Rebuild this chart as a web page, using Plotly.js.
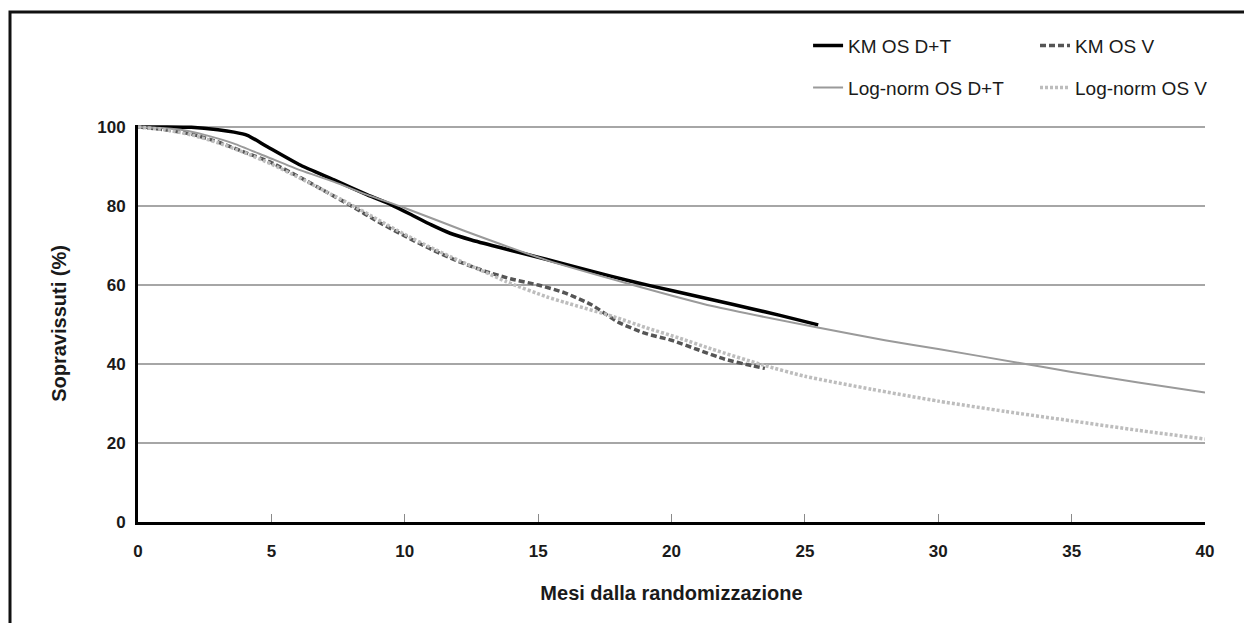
<!DOCTYPE html>
<html>
<head>
<meta charset="utf-8">
<script src="https://cdn.plot.ly/plotly-3.0.1.min.js"></script>
<style>
  html, body { margin: 0; padding: 0; background: #fff; }
  #chart { width: 1244px; height: 623px; }
</style>
</head>
<body>
<div id="chart"></div>
<script>
// Kaplan-Meier OS D+T (months, % surviving)
const kmDT_x = [0, 1, 2, 3, 3.6, 4.1, 4.85, 6.1, 7.35, 8.6, 9.5, 10.3, 11, 11.7, 12.5, 13.5, 15.3, 17, 18.45, 20, 21.57, 23, 24.07, 25.5];
const kmDT_y = [100, 100, 99.9, 99.3, 98.7, 97.9, 95, 90.3, 86.6, 82.8, 80.3, 77.6, 75.2, 73.1, 71.4, 69.6, 66.5, 63.5, 61.0, 58.6, 56.2, 54.0, 52.3, 49.9];

// Kaplan-Meier OS V
const kmV_x = [0, 1, 2, 3, 4, 5, 6, 7, 8, 9, 10, 11, 12, 13, 14, 15, 16, 17, 18, 19, 20, 21, 22, 23, 23.5];
const kmV_y = [100, 99.3, 98.2, 96.2, 93.6, 91.0, 87.5, 83.8, 80.0, 76.0, 72.4, 69.0, 66.0, 63.5, 61.5, 60.0, 58.0, 55.0, 50.6, 47.8, 46.0, 43.6, 41.2, 39.6, 38.9];

// Log-normal OS D+T
const lnDT_x = [0, 1, 1.73, 2.5, 3.6, 4.85, 6.1, 7.35, 8.6, 10, 12.2, 15.32, 18.45, 21.57, 25.58, 28, 30, 33, 35, 37.5, 40];
const lnDT_y = [100, 99.7, 99.2, 98, 95.8, 92.4, 89, 86.1, 82.8, 79.5, 73.8, 66.3, 60.2, 54.6, 49.1, 46.0, 43.8, 40.3, 38.0, 35.3, 32.8];

// Log-normal OS V
const lnV_x = [0, 1, 2, 3, 4, 5, 6, 7, 8, 9, 10, 11, 12, 13, 13.82, 15.32, 16, 17.82, 19, 20.32, 21.5, 23.45, 25, 27.5, 30, 32.5, 35, 37.5, 40];
const lnV_y = [100, 99.3, 98, 96, 93.5, 90.6, 87.3, 83.8, 80.3, 76.5, 72.8, 69.4, 66.3, 63.3, 60.8, 57.0, 55.6, 52.0, 49.3, 46.5, 43.8, 39.7, 36.9, 33.6, 30.6, 28.0, 25.6, 23.2, 21.0];

const seriesNames = ["KM OS D+T", "KM OS V", "Log-norm OS D+T", "Log-norm OS V"];
const xTicks = [0, 5, 10, 15, 20, 25, 30, 35, 40];
const yTicks = [0, 20, 40, 60, 80, 100];

const FONT = '"Liberation Sans", Arial, Helvetica, sans-serif';

const traces = [
  { x: kmDT_x, y: kmDT_y, name: seriesNames[0], mode: 'lines', legend: 'legend',
    line: { color: '#000000', width: 3.5, shape: 'spline', smoothing: 0.6 } },
  { x: kmV_x, y: kmV_y, name: seriesNames[1], mode: 'lines', legend: 'legend2',
    line: { color: '#555555', width: 3.5, dash: '6px,3px', shape: 'spline', smoothing: 0.6 } },
  { x: lnDT_x, y: lnDT_y, name: seriesNames[2], mode: 'lines', legend: 'legend3',
    line: { color: '#9a9a9a', width: 2, shape: 'spline', smoothing: 0.6 } },
  { x: lnV_x, y: lnV_y, name: seriesNames[3], mode: 'lines', legend: 'legend4',
    line: { color: '#bdbdbd', width: 3.5, dash: '3px,2px', shape: 'spline', smoothing: 0.6 } }
];

const legendBase = {
  xanchor: 'left', yanchor: 'middle', bgcolor: 'rgba(0,0,0,0)',
  font: { family: FONT, size: 19, color: '#1a1a1a' }, itemwidth: 30
};

const layout = {
  width: 1244, height: 623,
  paper_bgcolor: '#ffffff', plot_bgcolor: '#ffffff',
  margin: { l: 138, r: 39, t: 125, b: 101, autoexpand: false },
  font: { family: FONT, color: '#1a1a1a' },
  showlegend: true,
  xaxis: {
    range: [0, 40], tickvals: xTicks, ticktext: xTicks.map(String),
    ticks: 'inside', ticklen: 8, tickwidth: 1, tickcolor: '#8a8a8a',
    showline: true, linecolor: '#000000', linewidth: 3,
    showgrid: false, zeroline: false, ticklabelstandoff: 12,
    tickfont: { family: FONT, size: 17, weight: 'bold', color: '#1a1a1a' },
    title: { text: 'Mesi dalla randomizzazione', standoff: 26,
             font: { family: FONT, size: 20, weight: 'bold', color: '#1a1a1a' } }
  },
  yaxis: {
    range: [0, 100.5], tickvals: yTicks, ticktext: yTicks.map(String),
    ticks: '', showline: true, linecolor: '#000000', linewidth: 3,
    showgrid: true, gridcolor: '#a6a6a6', gridwidth: 1.5, zeroline: false,
    ticklabelstandoff: 6,
    tickfont: { family: FONT, size: 17, weight: 'bold', color: '#1a1a1a' },
    title: { text: 'Sopravissuti (%)', standoff: 26,
             font: { family: FONT, size: 20, weight: 'bold', color: '#1a1a1a' } }
  },
  legend:  Object.assign({}, legendBase, { x: 0.628, y: 1.200 }),
  legend2: Object.assign({}, legendBase, { x: 0.8407, y: 1.200 }),
  legend3: Object.assign({}, legendBase, { x: 0.628, y: 1.094 }),
  legend4: Object.assign({}, legendBase, { x: 0.8407, y: 1.094 }),
  shapes: [
    { type: 'path', xref: 'paper', yref: 'paper',
      path: 'M -0.11996,-0.30 L -0.11996,1.2847 L 1.05,1.2847',
      line: { color: '#111111', width: 3 } }
  ]
};

Plotly.newPlot('chart', traces, layout, { displayModeBar: false, staticPlot: true });
</script>
</body>
</html>
